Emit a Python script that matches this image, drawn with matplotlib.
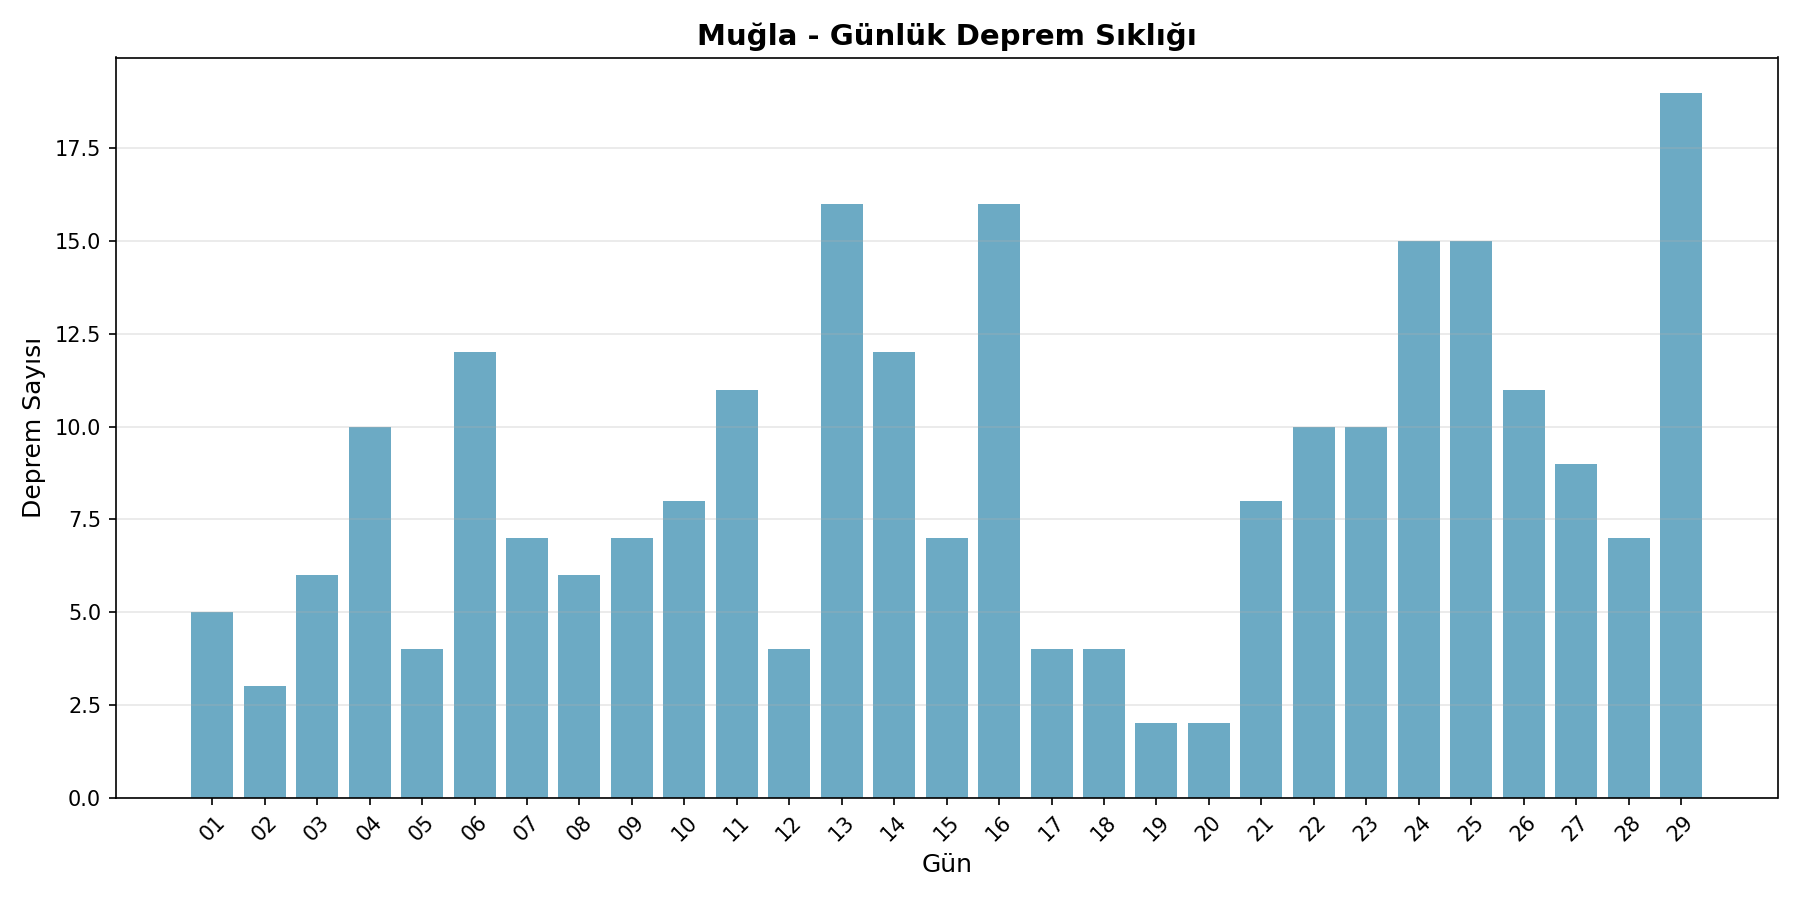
import matplotlib
matplotlib.use("Agg")
import matplotlib.pyplot as plt

days = ["01","02","03","04","05","06","07","08","09","10","11","12","13","14","15",
        "16","17","18","19","20","21","22","23","24","25","26","27","28","29"]
counts = [5,3,6,10,4,12,7,6,7,8,11,4,16,12,7,16,4,4,2,2,8,10,10,15,15,11,9,7,19]

fig, ax = plt.subplots(figsize=(12, 6), dpi=150)
ax.bar(days, counts, color="#2E86AB", alpha=0.7)
ax.set_title("Muğla - Günlük Deprem Sıklığı", fontsize=14, fontweight="bold")
ax.set_xlabel("Gün", fontsize=12)
ax.set_ylabel("Deprem Sayısı", fontsize=12)
ax.grid(axis="y", alpha=0.3)
plt.setp(ax.get_xticklabels(), rotation=45)
fig.tight_layout()
fig.savefig("out.png", dpi=150)
